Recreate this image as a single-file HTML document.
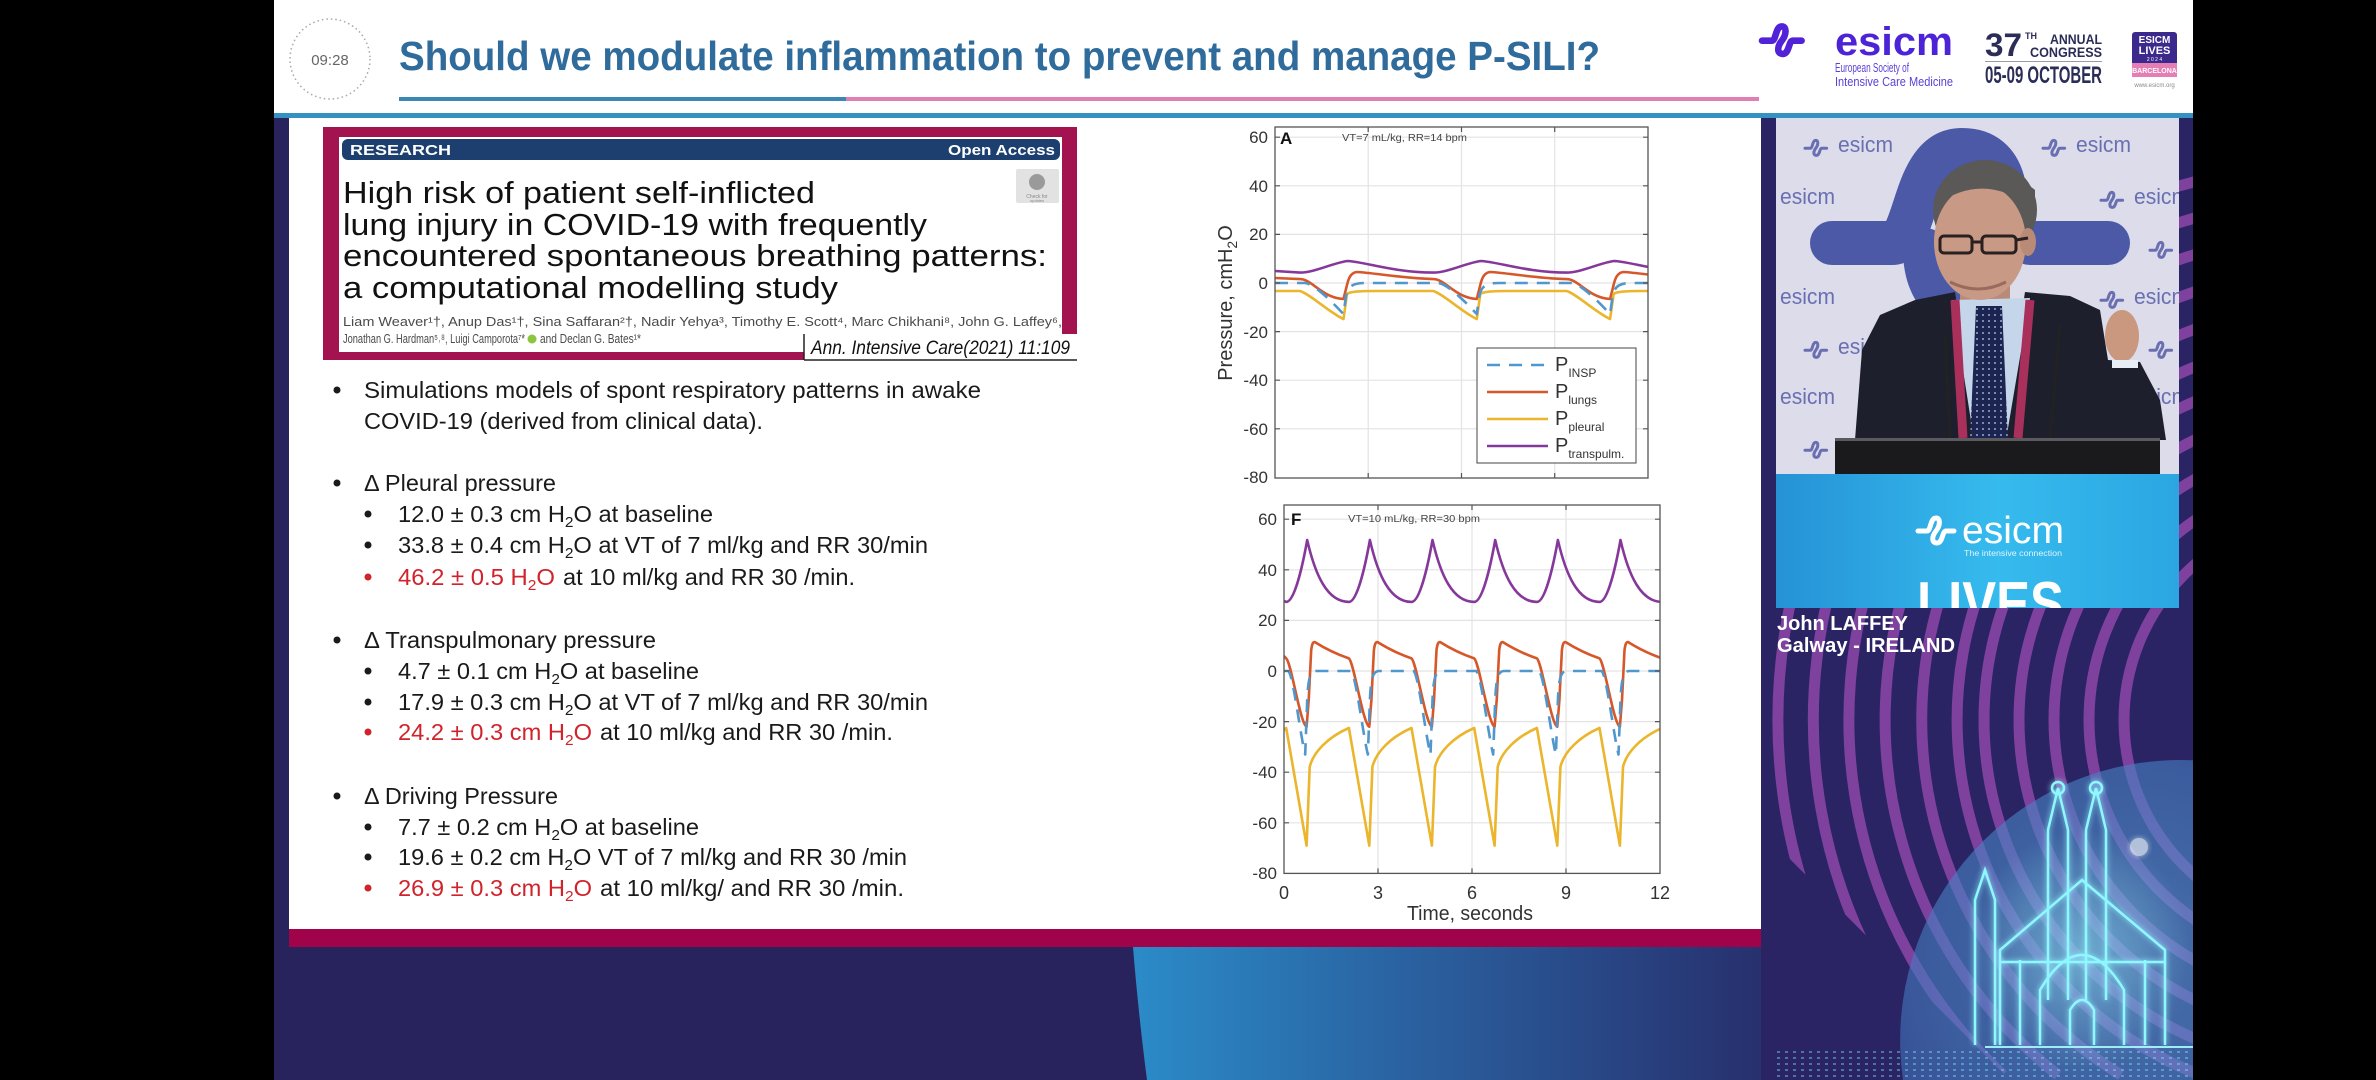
<!DOCTYPE html>
<html><head><meta charset="utf-8">
<style>
html,body{margin:0;padding:0;background:#000;width:2376px;height:1080px;overflow:hidden;}
#wrap{width:2376px;height:1080px;overflow:hidden;position:relative;}
svg{display:block;}
</style></head>
<body>
<div id="wrap">
<svg width="2376" height="1080" viewBox="0 0 2376 1080" xmlns="http://www.w3.org/2000/svg" font-family="'Liberation Sans', sans-serif" overflow="hidden">
<defs>
  <linearGradient id="lowblue" gradientUnits="userSpaceOnUse" x1="1133" y1="0" x2="1761" y2="0">
    <stop offset="0" stop-color="#2b8bc8"/>
    <stop offset="0.45" stop-color="#2a609f"/>
    <stop offset="1" stop-color="#28306e"/>
  </linearGradient>
  <linearGradient id="desk" x1="0" x2="1" y1="0" y2="0">
    <stop offset="0" stop-color="#2592d6"/>
    <stop offset="0.55" stop-color="#36bbee"/>
    <stop offset="1" stop-color="#2ba6e2"/>
  </linearGradient>
  <radialGradient id="circ" gradientUnits="userSpaceOnUse" cx="2130" cy="960" r="320">
    <stop offset="0" stop-color="#5a9fd6"/>
    <stop offset="0.6" stop-color="#4680c2"/>
    <stop offset="1" stop-color="#3a5ca8"/>
  </radialGradient>
  <radialGradient id="cglow" cx="0.5" cy="0.5" r="0.5">
    <stop offset="0" stop-color="#9ff8ff" stop-opacity="0.45"/>
    <stop offset="1" stop-color="#9ff8ff" stop-opacity="0"/>
  </radialGradient>
  <pattern id="dots" width="6" height="6" patternUnits="userSpaceOnUse">
    <rect width="6" height="6" fill="#1c2550"/><circle cx="3" cy="3" r="1" fill="#9aa8d0"/>
  </pattern>
  <pattern id="city" width="8" height="6" patternUnits="userSpaceOnUse">
    <rect x="1" y="1" width="3" height="2" fill="#7fefff"/>
  </pattern>
  <filter id="glow" x="-20%" y="-20%" width="140%" height="140%">
    <feGaussianBlur stdDeviation="3" result="b"/>
    <feMerge><feMergeNode in="b"/><feMergeNode in="SourceGraphic"/></feMerge>
  </filter>
  <clipPath id="vid"><rect x="1776" y="118" width="403" height="490"/></clipPath>
  <clipPath id="rcol"><rect x="1761" y="118" width="432" height="962"/></clipPath>
  <clipPath id="arcclip"><polygon points="1761,118 2193,118 2193,1080 2010,1080 1761,830"/></clipPath>
  <clipPath id="clipA"><rect x="1275" y="127" width="373" height="351"/></clipPath>
  <clipPath id="clipF"><rect x="1284" y="505" width="376" height="368.4"/></clipPath>
  <g id="sq"><path d="M0 17 H9 C13 17 12 4 18 4 C23 4 22 12 18 17 C14 22 13 29 19 29 C25 29 24 17 28 17 H36" fill="none" stroke-width="5" stroke-linecap="round"/></g>
</defs>

<rect width="2376" height="1080" fill="#000"/>

<!-- header -->
<rect x="274" y="0" width="1919" height="113" fill="#ffffff"/>
<rect x="274" y="113" width="1919" height="5" fill="#3592c0"/>
<circle cx="330" cy="59" r="40" fill="none" stroke="#a8a8a8" stroke-width="1.5" stroke-dasharray="1.5 3"/>
<text x="330" y="65" font-size="15" fill="#666" text-anchor="middle">09:28</text>
<text x="399" y="70" font-size="41" font-weight="bold" fill="#2f6b9b" textLength="1201" lengthAdjust="spacingAndGlyphs">Should we modulate inflammation to prevent and manage P-SILI?</text>
<rect x="399" y="97" width="447" height="4" fill="#3a86b4"/>
<rect x="846" y="97" width="913" height="4" fill="#e07fb5"/>

<!-- header logos -->
<g transform="translate(1762,22) scale(1.1)" stroke="#5222d8"><path d="M0 17 H9 C13 17 12 4 18 4 C23 4 22 12 18 17 C14 22 13 29 19 29 C25 29 24 17 28 17 H36" fill="none" stroke-width="6" stroke-linecap="round"/></g>
<text x="1835" y="55" font-size="40" font-weight="600" fill="#4d23d8" textLength="118" lengthAdjust="spacingAndGlyphs">esicm</text>
<text x="1835" y="72" font-size="13" fill="#5b3fd6" textLength="74" lengthAdjust="spacingAndGlyphs">European Society of</text>
<text x="1835" y="86" font-size="13" fill="#5b3fd6" textLength="118" lengthAdjust="spacingAndGlyphs">Intensive Care Medicine</text>
<text x="1985" y="56" font-size="32" font-weight="bold" fill="#2b2d57" textLength="37" lengthAdjust="spacingAndGlyphs">37</text>
<text x="2025" y="39" font-size="9" font-weight="bold" fill="#2b2d57">TH</text>
<text x="2050" y="44" font-size="14" font-weight="bold" fill="#2b2d57" textLength="52" lengthAdjust="spacingAndGlyphs">ANNUAL</text>
<text x="2030" y="57" font-size="14" font-weight="bold" fill="#2b2d57" textLength="72" lengthAdjust="spacingAndGlyphs">CONGRESS</text>
<line x1="1985" y1="61.5" x2="2102" y2="61.5" stroke="#9a9aaa" stroke-width="1"/>
<text x="1985" y="83" font-size="24" font-weight="bold" fill="#2b2d57" textLength="117" lengthAdjust="spacingAndGlyphs">05-09 OCTOBER</text>
<rect x="2132" y="32" width="45" height="45" rx="3" fill="#3b2a8c"/>
<rect x="2132" y="63" width="45" height="14" fill="#e57eb5"/>
<text x="2154.5" y="43" font-size="10" font-weight="bold" fill="#fff" text-anchor="middle">ESICM</text>
<text x="2154.5" y="54" font-size="11" font-weight="bold" fill="#fff" text-anchor="middle">LIVES</text>
<text x="2154.5" y="61" font-size="5" fill="#fff" text-anchor="middle">2 0 2 4</text>
<text x="2154.5" y="73" font-size="7" font-weight="bold" fill="#fff" text-anchor="middle">BARCELONA</text>
<text x="2154.5" y="87" font-size="6" fill="#888" text-anchor="middle">www.esicm.org</text>

<!-- navy background regions -->
<rect x="274" y="118" width="1487" height="962" fill="#28235d"/>
<path d="M1133 947 Q1138 1010 1147 1080 L1761 1080 L1761 947 Z" fill="url(#lowblue)"/>

<!-- right column -->
<rect x="1761" y="118" width="432" height="962" fill="#2a2364"/>
<g clip-path="url(#arcclip)" fill="none" stroke="#8d47a8" stroke-width="11" opacity="0.85">
  <path d="M2330 164 A556 556 0 0 0 1906 1075"/>
  <path d="M2330 199 A521 521 0 0 0 1953 1075"/>
  <path d="M2330 234 A486 486 0 0 0 2003 1075"/>
  <path d="M2330 269 A451 451 0 0 0 2058 1075"/>
  <path d="M2330 304 A416 416 0 0 0 2121 1075"/>
  <path d="M2330 339 A381 381 0 0 0 2200 1075"/>
  <path d="M2330 374 A346 346 0 0 0 1984 720 A346 346 0 0 0 2330 1066"/>
  <path d="M2330 409 A311 311 0 0 0 2019 720 A311 311 0 0 0 2330 1031"/>
  <path d="M2330 444 A276 276 0 0 0 2054 720 A276 276 0 0 0 2330 996"/>
  <path d="M2330 479 A241 241 0 0 0 2089 720 A241 241 0 0 0 2330 961"/>
  <path d="M2330 514 A206 206 0 0 0 2124 720 A206 206 0 0 0 2330 926"/>
</g>
<g clip-path="url(#rcol)">
  <path d="M1903 1080 A280 280 0 0 1 2193 760.3 L2193 1080 Z" fill="url(#circ)" opacity="0.62"/>
  <ellipse cx="2080" cy="950" rx="110" ry="120" fill="url(#cglow)"/>
  <g stroke="#8ff7ff" fill="none" stroke-width="2.5" filter="url(#glow)">
    <path d="M2048 1000 L2048 830 L2058 788 L2068 830 L2068 1000"/>
    <path d="M2086 1000 L2086 830 L2096 788 L2106 830 L2106 1000"/>
    <circle cx="2058" cy="788" r="6"/><circle cx="2096" cy="788" r="6"/>
    <path d="M2000 1045 L2000 950 L2082 880 L2165 950 L2165 1045"/>
    <path d="M2040 1045 L2040 990 Q2082 920 2124 990 L2124 1045"/>
    <path d="M2070 1045 L2070 1010 Q2082 990 2094 1010 L2094 1045"/>
    <path d="M2020 960 L2020 1045 M2145 960 L2145 1045 M2000 962 L2165 962"/>
    <path d="M1975 1045 L1975 900 L1985 870 L1995 900 L1995 1045"/>
  </g>
  <circle cx="2139" cy="847" r="9" fill="#ffffff" opacity="0.6" filter="url(#glow)"/>
  <line x1="1985" y1="1047" x2="2193" y2="1047" stroke="#a8fbff" stroke-width="2" opacity="0.9"/>
  <rect x="1776" y="1050" width="417" height="30" fill="url(#city)" opacity="0.4"/>
</g>
<rect x="1761" y="118" width="15" height="490" fill="#2a2364"/>

<!-- video -->
<g clip-path="url(#vid)">
  <rect x="1776" y="118" width="403" height="490" fill="#dcdcea"/>
  <g stroke="#6a6fb2"><use href="#sq" transform="translate(1805,138) scale(0.6)"/>
  <use href="#sq" transform="translate(2043,138) scale(0.6)"/>
  <use href="#sq" transform="translate(2101,190) scale(0.6)"/>
  <use href="#sq" transform="translate(2101,290) scale(0.6)"/>
  <use href="#sq" transform="translate(1805,340) scale(0.6)"/>
  <use href="#sq" transform="translate(2101,390) scale(0.6)"/>
  <use href="#sq" transform="translate(2150,240) scale(0.6)"/>
  <use href="#sq" transform="translate(2150,340) scale(0.6)"/>
  <use href="#sq" transform="translate(1805,440) scale(0.6)"/></g>
  <g font-size="22" fill="#6a6fb2">
    <text x="1838" y="152" textLength="55" lengthAdjust="spacingAndGlyphs">esicm</text>
    <text x="1780" y="204" textLength="55" lengthAdjust="spacingAndGlyphs">esicm</text>
    <text x="2076" y="152" textLength="55" lengthAdjust="spacingAndGlyphs">esicm</text>
    <text x="2134" y="204" textLength="55" lengthAdjust="spacingAndGlyphs">esicm</text>
    <text x="1780" y="304" textLength="55" lengthAdjust="spacingAndGlyphs">esicm</text>
    <text x="2134" y="304" textLength="55" lengthAdjust="spacingAndGlyphs">esicm</text>
    <text x="1838" y="354" textLength="55" lengthAdjust="spacingAndGlyphs">esicm</text>
    <text x="1780" y="404" textLength="55" lengthAdjust="spacingAndGlyphs">esicm</text>
    <text x="2134" y="404" textLength="55" lengthAdjust="spacingAndGlyphs">esicm</text>
  </g>
  <g fill="none" stroke="#4b59a7" stroke-width="44" stroke-linecap="round">
    <path d="M1832 243 H1892 C1918 243 1912 150 1962 150 C2008 150 2012 200 2000 250"/>
    <path d="M1925 250 C1925 300 1960 320 1985 300"/>
    <path d="M2030 243 H2108"/>
  </g>
  <!-- man -->
  <polygon points="1855,440 1862,350 1880,315 1915,300 1955,292 1978,440" fill="#1d1f2d"/>
  <polygon points="2002,440 2025,292 2070,296 2100,310 2108,360 2140,362 2160,400 2166,440" fill="#1d1f2d"/>
  <rect x="1960" y="280" width="50" height="30" fill="#b88a78"/>
  <polygon points="1952,300 2030,298 2006,440 1974,440" fill="#c5d6ea"/>
  <polygon points="1976,306 2002,306 2008,440 1970,440" fill="url(#dots)"/>
  <line x1="1955" y1="300" x2="1963" y2="438" stroke="#a8305a" stroke-width="9"/>
  <line x1="2030" y1="300" x2="2018" y2="438" stroke="#a8305a" stroke-width="9"/>
  <ellipse cx="1985" cy="210" rx="52" ry="50" fill="#5b5958"/>
  <ellipse cx="1980" cy="242" rx="46" ry="58" fill="#c89a86"/>
  <ellipse cx="2028" cy="242" rx="8" ry="14" fill="#b98a76"/>
  <path d="M1936 205 Q1985 170 2035 210 L2035 190 Q1985 150 1938 190 Z" fill="#5b5958"/>
  <g fill="none" stroke="#2a2020" stroke-width="3">
    <rect x="1940" y="236" width="32" height="17" rx="4"/>
    <rect x="1982" y="236" width="34" height="17" rx="4"/>
    <line x1="1972" y1="242" x2="1982" y2="242"/>
    <line x1="2016" y1="240" x2="2028" y2="238"/>
  </g>
  <path d="M1950 282 Q1978 296 2006 282" stroke="#9a6b5d" stroke-width="3" fill="none"/>
  <ellipse cx="2122" cy="336" rx="17" ry="26" fill="#c9987f"/>
  <rect x="2112" y="360" width="26" height="8" fill="#e8eef6"/>
  <line x1="1950" y1="440" x2="1945" y2="335" stroke="#222" stroke-width="3"/>
  <line x1="2050" y1="440" x2="2060" y2="325" stroke="#222" stroke-width="3"/>
  <rect x="1835" y="438" width="325" height="36" fill="#1a1a1d"/>
  <rect x="1835" y="438" width="325" height="3" fill="#5a5a60"/>
  <rect x="1776" y="474" width="403" height="134" fill="url(#desk)"/>
  <use href="#sq" transform="translate(1918,514)" stroke="#ffffff"/>
  <text x="1962" y="543" font-size="38" fill="#ffffff" textLength="102" lengthAdjust="spacingAndGlyphs">esicm</text>
  <text x="1964" y="556" font-size="8" fill="#e0f4ff" textLength="98" lengthAdjust="spacingAndGlyphs">The intensive connection</text>
  <text x="1917" y="625" font-size="62" font-weight="bold" fill="#ffffff" textLength="147" lengthAdjust="spacingAndGlyphs">LIVES</text>
</g>
<text x="1777" y="630" font-size="20" font-weight="bold" fill="#ffffff" textLength="131" lengthAdjust="spacingAndGlyphs">John LAFFEY</text>
<text x="1777" y="652" font-size="20" font-weight="bold" fill="#ffffff" textLength="178" lengthAdjust="spacingAndGlyphs">Galway - IRELAND</text>

<!-- slide -->
<rect x="289" y="118" width="1472" height="811" fill="#ffffff"/>
<rect x="289" y="929" width="1472" height="18" fill="#a1034a"/>

<!-- article box -->
<rect x="323" y="127" width="754" height="233" fill="#a3134f"/>
<rect x="339" y="137" width="723" height="215" fill="#ffffff"/>
<rect x="342" y="139" width="718" height="21" rx="6" fill="#1c3f70"/>
<text x="350" y="155" font-size="15" font-weight="bold" fill="#fff" textLength="101" lengthAdjust="spacingAndGlyphs">RESEARCH</text>
<text x="948" y="155" font-size="15" font-weight="bold" fill="#fff" textLength="107" lengthAdjust="spacingAndGlyphs">Open Access</text>
<rect x="1016" y="169" width="43" height="34" rx="2" fill="#e2e2e2"/>
<circle cx="1037" cy="182" r="8" fill="#9a9a9a"/>
<text x="1037" y="198" font-size="5" fill="#888" text-anchor="middle">Check for</text>
<text x="1037" y="202" font-size="4" fill="#888" text-anchor="middle">updates</text>
<g font-size="31" fill="#111">
  <text x="343" y="203" textLength="472" lengthAdjust="spacingAndGlyphs">High risk of patient self-inflicted</text>
  <text x="343" y="235" textLength="584" lengthAdjust="spacingAndGlyphs">lung injury in COVID-19 with frequently</text>
  <text x="343" y="266" textLength="704" lengthAdjust="spacingAndGlyphs">encountered spontaneous breathing patterns:</text>
  <text x="343" y="298" textLength="495" lengthAdjust="spacingAndGlyphs">a computational modelling study</text>
</g>
<g font-size="13" fill="#4a4a4a">
  <text x="343" y="326" textLength="719" lengthAdjust="spacingAndGlyphs">Liam Weaver¹†, Anup Das¹†, Sina Saffaran²†, Nadir Yehya³, Timothy E. Scott⁴, Marc Chikhani⁸, John G. Laffey⁶,</text>
  <text x="343" y="343" textLength="182" lengthAdjust="spacingAndGlyphs">Jonathan G. Hardman⁵˒⁸, Luigi Camporota⁷*</text>
  <text x="540" y="343" textLength="101" lengthAdjust="spacingAndGlyphs">and Declan G. Bates¹*</text>
</g>
<circle cx="532" cy="339" r="4.5" fill="#8cc63f"/>
<rect x="804" y="334" width="273" height="26" fill="#ffffff"/>
<line x1="804" y1="334" x2="804" y2="360" stroke="#222" stroke-width="1.5"/>
<line x1="804" y1="360" x2="1077" y2="360" stroke="#222" stroke-width="1.5"/>
<text x="811" y="354" font-size="19" font-style="italic" fill="#111" textLength="259" lengthAdjust="spacingAndGlyphs">Ann. Intensive Care(2021) 11:109</text>

<!-- bullets -->
<g fill="#1a1a1a">
  <circle cx="337" cy="390" r="3.5"/><circle cx="337" cy="483" r="3.5"/>
  <circle cx="368" cy="514" r="3.5"/><circle cx="368" cy="545" r="3.5"/>
  <circle cx="337" cy="640" r="3.5"/>
  <circle cx="368" cy="671" r="3.5"/><circle cx="368" cy="702" r="3.5"/>
  <circle cx="337" cy="796" r="3.5"/>
  <circle cx="368" cy="827" r="3.5"/><circle cx="368" cy="857" r="3.5"/>
</g>
<g fill="#d0232b">
  <circle cx="368" cy="577" r="3.5"/><circle cx="368" cy="732" r="3.5"/><circle cx="368" cy="888" r="3.5"/>
</g>
<g font-size="23" fill="#1a1a1a">
  <text x="364" y="398" textLength="617" lengthAdjust="spacingAndGlyphs">Simulations models of spont respiratory patterns in awake</text>
  <text x="364" y="429" textLength="399" lengthAdjust="spacingAndGlyphs">COVID-19 (derived from clinical data).</text>
  <text x="364" y="491" textLength="192" lengthAdjust="spacingAndGlyphs">Δ Pleural pressure</text>
  <text x="398" y="522" textLength="315" lengthAdjust="spacingAndGlyphs">12.0 ± 0.3 cm H<tspan font-size="15" dy="5">2</tspan><tspan dy="-5">O at baseline</tspan></text>
  <text x="398" y="553" textLength="530" lengthAdjust="spacingAndGlyphs">33.8 ± 0.4 cm H<tspan font-size="15" dy="5">2</tspan><tspan dy="-5">O at VT of 7 ml/kg and RR 30/min</tspan></text>
  <text x="398" y="585" fill="#d0232b" textLength="157" lengthAdjust="spacingAndGlyphs">46.2 ± 0.5 H<tspan font-size="15" dy="5">2</tspan><tspan dy="-5">O</tspan></text>
  <text x="563" y="585" textLength="292" lengthAdjust="spacingAndGlyphs">at 10 ml/kg and RR 30 /min.</text>
  <text x="364" y="648" textLength="292" lengthAdjust="spacingAndGlyphs">Δ Transpulmonary pressure</text>
  <text x="398" y="679" textLength="301" lengthAdjust="spacingAndGlyphs">4.7 ± 0.1 cm H<tspan font-size="15" dy="5">2</tspan><tspan dy="-5">O at baseline</tspan></text>
  <text x="398" y="710" textLength="530" lengthAdjust="spacingAndGlyphs">17.9 ± 0.3 cm H<tspan font-size="15" dy="5">2</tspan><tspan dy="-5">O at VT of 7 ml/kg and RR 30/min</tspan></text>
  <text x="398" y="740" fill="#d0232b" textLength="194" lengthAdjust="spacingAndGlyphs">24.2 ± 0.3 cm H<tspan font-size="15" dy="5">2</tspan><tspan dy="-5">O</tspan></text>
  <text x="600" y="740" textLength="293" lengthAdjust="spacingAndGlyphs">at 10 ml/kg and RR 30 /min.</text>
  <text x="364" y="804" textLength="194" lengthAdjust="spacingAndGlyphs">Δ Driving Pressure</text>
  <text x="398" y="835" textLength="301" lengthAdjust="spacingAndGlyphs">7.7 ± 0.2 cm H<tspan font-size="15" dy="5">2</tspan><tspan dy="-5">O at baseline</tspan></text>
  <text x="398" y="865" textLength="509" lengthAdjust="spacingAndGlyphs">19.6 ± 0.2 cm H<tspan font-size="15" dy="5">2</tspan><tspan dy="-5">O VT of 7 ml/kg and RR 30 /min</tspan></text>
  <text x="398" y="896" fill="#d0232b" textLength="194" lengthAdjust="spacingAndGlyphs">26.9 ± 0.3 cm H<tspan font-size="15" dy="5">2</tspan><tspan dy="-5">O</tspan></text>
  <text x="600" y="896" textLength="304" lengthAdjust="spacingAndGlyphs">at 10 ml/kg/ and RR 30 /min.</text>
</g>

<!-- ===== Chart A ===== -->
<g stroke="#e3e3e3" stroke-width="1.2">
  <line x1="1275" y1="137.2" x2="1648" y2="137.2"/><line x1="1275" y1="185.8" x2="1648" y2="185.8"/>
  <line x1="1275" y1="234.4" x2="1648" y2="234.4"/><line x1="1275" y1="283" x2="1648" y2="283"/>
  <line x1="1275" y1="331.6" x2="1648" y2="331.6"/><line x1="1275" y1="380.2" x2="1648" y2="380.2"/>
  <line x1="1275" y1="428.8" x2="1648" y2="428.8"/>
  <line x1="1368.2" y1="127" x2="1368.2" y2="478"/><line x1="1461.5" y1="127" x2="1461.5" y2="478"/>
  <line x1="1554.7" y1="127" x2="1554.7" y2="478"/>
</g>
<g clip-path="url(#clipA)" fill="none" stroke-width="2.6" stroke-linejoin="round">
  <path stroke="#86389a" d="M1275 271 L1300 272.6 C1315 272.6 1335 262 1348 261 C1365 262 1395 272.6 1433.3 272.6 C1448.3 272.6 1468.3 262 1481.3 261 C1498.3 262 1528.3 272.6 1566.6 272.6 C1581.6 272.6 1601.6 262 1614.6 261 C1631.6 262 1661.6 272.6 1699.9 272.6"/>
  <path stroke="#d6582a" d="M1275 278 L1300 279.1 C1312 279.1 1322 298 1343.5 299 L1347 285 C1349 276 1352 272.5 1357 272 C1375 273 1400 278 1433.3 279.1 C1445.3 279.1 1455.3 298 1476.8 299 L1480.3 285 C1482.3 276 1485.3 272.5 1490.3 272 C1508.3 273 1533.3 278 1566.6 279.1 C1578.6 279.1 1588.6 298 1610.1 299 L1613.6 285 C1615.6 276 1618.6 272.5 1623.6 272 C1641.6 273 1666.6 278 1699.9 279.1"/>
  <path stroke="#ebb52c" d="M1275 291 L1300 291 C1310 294 1330 313 1343.5 319 L1347 294 C1350 291.5 1360 291 1375 291 L1433.3 291 C1443.3 294 1463.3 313 1476.8 319 L1480.3 294 C1483.3 291.5 1493.3 291 1508.3 291 L1566.6 291 C1576.6 294 1596.6 313 1610.1 319 L1613.6 294 C1616.6 291.5 1626.6 291 1641.6 291 L1650 291"/>
  <path stroke="#4f97cc" stroke-dasharray="13 9" d="M1275 283 L1305 283 C1315 284 1335 305 1343.5 314.1 L1346 296 C1348 286 1353 283 1365 283 L1438.3 283 C1448.3 284 1468.3 305 1476.8 314.1 L1479.3 296 C1481.3 286 1486.3 283 1498.3 283 L1571.6 283 C1581.6 284 1601.6 305 1610.1 314.1 L1612.6 296 C1614.6 286 1619.6 283 1631.6 283 L1650 283"/>
</g>
<rect x="1275" y="127" width="373" height="351" fill="none" stroke="#555" stroke-width="1.3"/>
<g stroke="#555" stroke-width="1.2">
  <path d="M1275 137.2 h5 M1275 185.8 h5 M1275 234.4 h5 M1275 283 h5 M1275 331.6 h5 M1275 380.2 h5 M1275 428.8 h5"/>
  <path d="M1648 137.2 h-5 M1648 185.8 h-5 M1648 234.4 h-5 M1648 283 h-5 M1648 331.6 h-5 M1648 380.2 h-5 M1648 428.8 h-5"/>
  <path d="M1368.2 478 v-5 M1461.5 478 v-5 M1554.7 478 v-5 M1368.2 127 v5 M1461.5 127 v5 M1554.7 127 v5"/>
</g>
<g font-size="17" fill="#333" text-anchor="end">
  <text x="1268" y="143">60</text><text x="1268" y="192">40</text><text x="1268" y="240">20</text>
  <text x="1268" y="289">0</text><text x="1268" y="338">-20</text><text x="1268" y="386">-40</text>
  <text x="1268" y="435">-60</text><text x="1268" y="483">-80</text>
</g>
<text transform="translate(1232,303) rotate(-90)" font-size="20" fill="#333" text-anchor="middle">Pressure, cmH<tspan font-size="14" dy="5">2</tspan><tspan dy="-5">O</tspan></text>
<text x="1280" y="144" font-size="17" font-weight="bold" fill="#111">A</text>
<text x="1342" y="141" font-size="10" fill="#444" textLength="125" lengthAdjust="spacingAndGlyphs">VT=7 mL/kg, RR=14 bpm</text>
<rect x="1477" y="348" width="159" height="115" fill="#fff" stroke="#444" stroke-width="1"/>
<line x1="1487" y1="365" x2="1548" y2="365" stroke="#4f97cc" stroke-width="2.6" stroke-dasharray="13 9"/>
<line x1="1487" y1="392" x2="1548" y2="392" stroke="#d6582a" stroke-width="2.6"/>
<line x1="1487" y1="419" x2="1548" y2="419" stroke="#ebb52c" stroke-width="2.6"/>
<line x1="1487" y1="446" x2="1548" y2="446" stroke="#86389a" stroke-width="2.6"/>
<g font-size="20" fill="#333">
  <text x="1555" y="371">P<tspan font-size="12" dy="6">INSP</tspan></text>
  <text x="1555" y="398">P<tspan font-size="12" dy="6">lungs</tspan></text>
  <text x="1555" y="425">P<tspan font-size="12" dy="6">pleural</tspan></text>
  <text x="1555" y="452">P<tspan font-size="12" dy="6">transpulm.</tspan></text>
</g>

<!-- ===== Chart F ===== -->
<g stroke="#e3e3e3" stroke-width="1.2">
  <line x1="1284" y1="519.2" x2="1660" y2="519.2"/><line x1="1284" y1="569.8" x2="1660" y2="569.8"/>
  <line x1="1284" y1="620.4" x2="1660" y2="620.4"/><line x1="1284" y1="671" x2="1660" y2="671"/>
  <line x1="1284" y1="721.6" x2="1660" y2="721.6"/><line x1="1284" y1="772.2" x2="1660" y2="772.2"/>
  <line x1="1284" y1="822.8" x2="1660" y2="822.8"/>
  <line x1="1378" y1="505" x2="1378" y2="873.4"/><line x1="1472" y1="505" x2="1472" y2="873.4"/>
  <line x1="1566" y1="505" x2="1566" y2="873.4"/>
</g>
<g clip-path="url(#clipF)" fill="none" stroke-width="2.6" stroke-linejoin="round">
  <path stroke="#86389a" d="M1284 601 L1286.2 601.9 C1294.2 601.9 1302.2 568 1307.2 540 C1315.2 575 1327.2 601.9 1348.9 601.9 C1356.9 601.9 1364.9 568 1369.9 540 C1377.9 575 1389.9 601.9 1411.5 601.9 C1419.5 601.9 1427.5 568 1432.5 540 C1440.5 575 1452.5 601.9 1474.2 601.9 C1482.2 601.9 1490.2 568 1495.2 540 C1503.2 575 1515.2 601.9 1536.9 601.9 C1544.9 601.9 1552.9 568 1557.9 540 C1565.9 575 1577.9 601.9 1599.5 601.9 C1607.5 601.9 1615.5 568 1620.5 540 C1628.5 575 1640.5 601.9 1662.2 601.9"/>
  <path stroke="#d6582a" d="M1284 656 L1286.2 658.4 C1291.2 662 1300.2 724 1306.6 726.7 L1308.7 700 L1311.2 650 C1312.2 643 1313.2 642 1314.7 642 C1324.2 648 1336.2 654 1348.9 658.4 C1353.9 662 1362.9 724 1369.3 726.7 L1371.4 700 L1373.9 650 C1374.9 643 1375.9 642 1377.4 642 C1386.9 648 1398.9 654 1411.5 658.4 C1416.5 662 1425.5 724 1431.9 726.7 L1434 700 L1436.5 650 C1437.5 643 1438.5 642 1440 642 C1449.5 648 1461.5 654 1474.2 658.4 C1479.2 662 1488.2 724 1494.6 726.7 L1496.7 700 L1499.2 650 C1500.2 643 1501.2 642 1502.7 642 C1512.2 648 1524.2 654 1536.9 658.4 C1541.9 662 1550.9 724 1557.3 726.7 L1559.4 700 L1561.9 650 C1562.9 643 1563.9 642 1565.4 642 C1574.9 648 1586.9 654 1599.5 658.4 C1604.5 662 1613.5 724 1619.9 726.7 L1622 700 L1624.5 650 C1625.5 643 1626.5 642 1628 642 C1637.5 648 1649.5 654 1662.2 658.4"/>
  <path stroke="#ebb52c" d="M1284 730 L1286.2 728 L1306.6 845.6 L1309.7 767 C1313.2 752 1328.2 737 1348.9 728 L1369.3 845.6 L1372.4 767 C1375.9 752 1390.9 737 1411.5 728 L1431.9 845.6 L1435 767 C1438.5 752 1453.5 737 1474.2 728 L1494.6 845.6 L1497.7 767 C1501.2 752 1516.2 737 1536.9 728 L1557.3 845.6 L1560.4 767 C1563.9 752 1578.9 737 1599.5 728 L1619.9 845.6 L1623 767 C1626.5 752 1641.5 737 1662.2 728"/>
  <path stroke="#4f97cc" stroke-dasharray="13 9" d="M1284 671 L1288.2 671 C1293.2 674 1300.2 735 1305.2 754.5 L1307.2 700 C1308.2 678 1310.2 671 1316.2 671 L1350.9 671 C1355.9 674 1362.9 735 1367.9 754.5 L1369.9 700 C1370.9 678 1372.9 671 1378.9 671 L1413.5 671 C1418.5 674 1425.5 735 1430.5 754.5 L1432.5 700 C1433.5 678 1435.5 671 1441.5 671 L1476.2 671 C1481.2 674 1488.2 735 1493.2 754.5 L1495.2 700 C1496.2 678 1498.2 671 1504.2 671 L1538.9 671 C1543.9 674 1550.9 735 1555.9 754.5 L1557.9 700 C1558.9 678 1560.9 671 1566.9 671 L1601.5 671 C1606.5 674 1613.5 735 1618.5 754.5 L1620.5 700 C1621.5 678 1623.5 671 1629.5 671 L1662 671"/>
</g>
<rect x="1284" y="505" width="376" height="368.4" fill="none" stroke="#555" stroke-width="1.3"/>
<g stroke="#555" stroke-width="1.2">
  <path d="M1284 519.2 h5 M1284 569.8 h5 M1284 620.4 h5 M1284 671 h5 M1284 721.6 h5 M1284 772.2 h5 M1284 822.8 h5"/>
  <path d="M1660 519.2 h-5 M1660 569.8 h-5 M1660 620.4 h-5 M1660 671 h-5 M1660 721.6 h-5 M1660 772.2 h-5 M1660 822.8 h-5"/>
  <path d="M1378 873.4 v-5 M1472 873.4 v-5 M1566 873.4 v-5 M1378 505 v5 M1472 505 v5 M1566 505 v5"/>
</g>
<g font-size="17" fill="#333" text-anchor="end">
  <text x="1277" y="525">60</text><text x="1277" y="576">40</text><text x="1277" y="626">20</text>
  <text x="1277" y="677">0</text><text x="1277" y="728">-20</text><text x="1277" y="778">-40</text>
  <text x="1277" y="829">-60</text><text x="1277" y="879">-80</text>
</g>
<g font-size="18" fill="#333" text-anchor="middle">
  <text x="1284" y="899">0</text><text x="1378" y="899">3</text><text x="1472" y="899">6</text>
  <text x="1566" y="899">9</text><text x="1660" y="899">12</text>
</g>
<text x="1470" y="920" font-size="20" fill="#333" text-anchor="middle" textLength="126" lengthAdjust="spacingAndGlyphs">Time, seconds</text>
<text x="1291" y="525" font-size="17" font-weight="bold" fill="#111">F</text>
<text x="1348" y="522" font-size="10" fill="#444" textLength="132" lengthAdjust="spacingAndGlyphs">VT=10 mL/kg, RR=30 bpm</text>
</svg>
</div>
</body></html>
